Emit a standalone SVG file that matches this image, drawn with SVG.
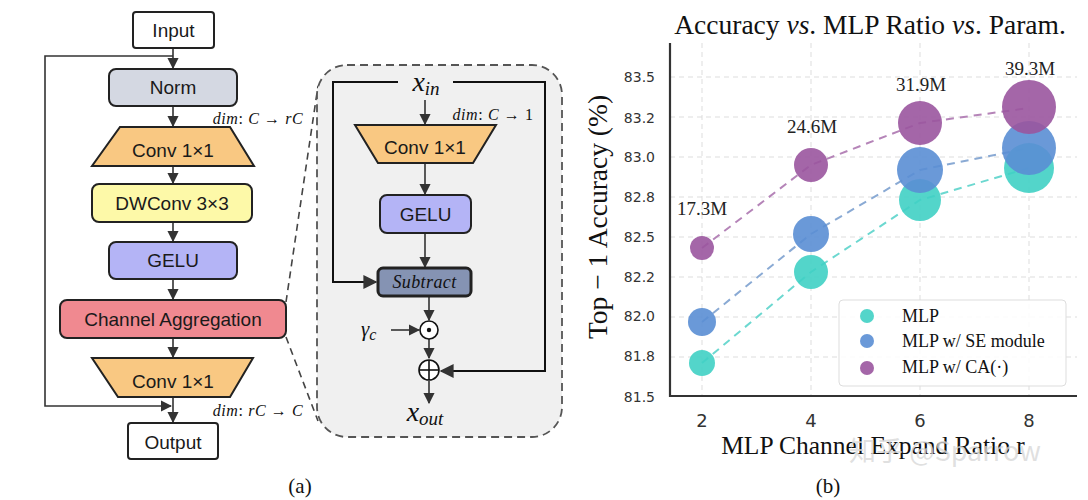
<svg xmlns="http://www.w3.org/2000/svg" width="1088" height="500" viewBox="0 0 1088 500">
<style>
.box{stroke:#222;stroke-width:2}
.lbl{font-family:"Liberation Sans",Arial,sans-serif;font-size:19px;fill:#1a1a1a;text-anchor:middle}
.math{font-family:"Liberation Serif","Times New Roman",serif;font-style:italic;fill:#111}
.ln{stroke:#333;stroke-width:1.6;fill:none}
.lnb{stroke:#111;stroke-width:2;fill:none}
.grid{stroke:#ddd;stroke-width:1;stroke-dasharray:5,4}
.tick{font-family:"DejaVu Sans",sans-serif;font-size:14px;fill:#333;text-anchor:end}
.xt{font-family:"DejaVu Sans",sans-serif;font-size:18px;fill:#333;text-anchor:middle}
.serif{font-family:"Liberation Serif","Times New Roman",serif;fill:#111}
.ann{font-family:"Liberation Serif","Times New Roman",serif;font-size:19px;fill:#222;text-anchor:middle}
.mlp{fill:#40d0c4;opacity:0.9}
.se{fill:#5a8ed4;opacity:0.9}
.ca{fill:#9a559e;opacity:0.9}
</style>
<defs>
<marker id="ah" viewBox="0 0 10 10" refX="9" refY="5" markerWidth="7" markerHeight="7" orient="auto-start-reverse">
<path d="M0,0 L10,5 L0,10 z" fill="#333"/>
</marker>
</defs>
<rect width="1088" height="500" fill="#fff"/>

<!-- Left panel (a) -->
<g id="connectors-a">
<line class="ln" x1="173" y1="48" x2="173" y2="68" marker-end="url(#ah)"/>
<polyline class="ln" points="173,56 45,56 45,406 171,406" marker-end="url(#ah)"/>
<line class="ln" x1="173" y1="106" x2="173" y2="126" marker-end="url(#ah)"/>
<line class="ln" x1="173" y1="166" x2="173" y2="183" marker-end="url(#ah)"/>
<line class="ln" x1="173" y1="222" x2="173" y2="241" marker-end="url(#ah)"/>
<line class="ln" x1="173" y1="279" x2="173" y2="299" marker-end="url(#ah)"/>
<line class="ln" x1="173" y1="338" x2="173" y2="357" marker-end="url(#ah)"/>
<line class="ln" x1="173" y1="397" x2="173" y2="422" marker-end="url(#ah)"/>
<line x1="286" y1="302" x2="318" y2="86" stroke="#444" stroke-width="1.6" stroke-dasharray="7,5"/>
<line x1="286" y1="337" x2="318" y2="421" stroke="#444" stroke-width="1.6" stroke-dasharray="7,5"/>
</g>
<g id="input"><rect class="box" x="133" y="12" width="81" height="36" rx="3" fill="#fff"/><text class="lbl" x="173.5" y="37">Input</text></g>
<g id="norm"><rect class="box" x="109" y="69" width="128" height="37" rx="7" fill="#d4d8e2"/><text class="lbl" x="173" y="94">Norm</text></g>
<g id="conv1"><polygon class="box" points="120,127 230,127 254,166 92,166" fill="#f9c882"/><text class="lbl" x="173" y="157">Conv 1×1</text></g>
<g id="dwconv"><rect class="box" x="92" y="184" width="160" height="38" rx="7" fill="#fdf9a8"/><text class="lbl" x="172" y="210">DWConv 3×3</text></g>
<g id="gelu"><rect class="box" x="109" y="242" width="128" height="37" rx="7" fill="#b4b4f6"/><text class="lbl" x="173" y="267">GELU</text></g>
<g id="ca-block"><rect class="box" x="60" y="300" width="226" height="38" rx="7" fill="#f08990"/><text class="lbl" x="173" y="326">Channel Aggregation</text></g>
<g id="conv2"><polygon class="box" points="92,358 253,358 230,397 118,397" fill="#f9c882"/><text class="lbl" x="173" y="388">Conv 1×1</text></g>
<g id="output"><rect class="box" x="128" y="423" width="90" height="36" rx="3" fill="#fff"/><text class="lbl" x="173" y="449">Output</text></g>
<g id="dim-labels">
<text class="math" x="258" y="124" font-size="16" letter-spacing="0.6" text-anchor="middle">dim<tspan font-style="normal">:</tspan> C <tspan font-style="normal">→</tspan> rC</text>
<text class="math" x="258" y="416" font-size="16" letter-spacing="0.6" text-anchor="middle">dim<tspan font-style="normal">:</tspan> rC <tspan font-style="normal">→</tspan> C</text>
</g>
<text class="serif" x="300" y="493" font-size="21" text-anchor="middle">(a)</text>

<!-- Inner CA detail -->
<g id="ca-detail">
<rect x="317" y="65" width="245" height="372" rx="30" fill="#f0f0f0" stroke="#555" stroke-width="1.8" stroke-dasharray="8,5"/>
</g>
<g id="connectors-ca">
<polyline class="lnb" points="398,82 333,82 333,282 376,282" marker-end="url(#ah)"/>
<polyline class="lnb" points="453,82 545,82 545,371 441,371" marker-end="url(#ah)"/>
<line class="ln" x1="425" y1="100" x2="425" y2="124" marker-end="url(#ah)"/>
<line class="ln" x1="425" y1="163" x2="425" y2="194" marker-end="url(#ah)"/>
<line class="ln" x1="425" y1="233" x2="425" y2="267" marker-end="url(#ah)"/>
<line class="ln" x1="429" y1="296" x2="429" y2="320" marker-end="url(#ah)"/>
<line class="ln" x1="391" y1="330" x2="419" y2="330" marker-end="url(#ah)"/>
<line class="ln" x1="429" y1="339" x2="429" y2="358" marker-end="url(#ah)"/>
<line class="ln" x1="429" y1="381" x2="429" y2="403" marker-end="url(#ah)"/>
</g>
<g id="xin"><text class="math" x="426" y="91" font-size="28" text-anchor="middle">x<tspan font-size="19" dy="4">in</tspan></text></g>
<g id="inner-conv"><polygon class="box" points="355,125 496,125 473,163 378,163" fill="#f9c882"/><text class="lbl" x="425" y="154">Conv 1×1</text></g>
<text class="math" x="493" y="120" font-size="16" letter-spacing="0.6" text-anchor="middle">dim<tspan font-style="normal">:</tspan> C <tspan font-style="normal">→ 1</tspan></text>
<g id="inner-gelu"><rect class="box" x="380" y="195" width="91" height="38" rx="7" fill="#b4b4f6"/><text class="lbl" x="425.5" y="221">GELU</text></g>
<g id="subtract"><rect x="378" y="268" width="93" height="28" rx="5" fill="#8593b3" stroke="#222" stroke-width="3"/><text class="math" x="424.5" y="288" font-size="18" letter-spacing="0.4" text-anchor="middle" fill="#111">Subtract</text></g>
<g id="mul"><circle cx="429" cy="330" r="9" fill="#fff" stroke="#111" stroke-width="1.6"/><circle cx="429" cy="330" r="2.2" fill="#111"/></g>
<g id="gamma"><text class="math" x="361" y="336" font-size="21" font-style="normal">γ<tspan font-style="italic" font-size="16" dy="4">c</tspan></text></g>
<g id="add"><circle cx="429" cy="370" r="10" fill="#fff" stroke="#111" stroke-width="1.6"/><line x1="419" y1="370" x2="439" y2="370" stroke="#111" stroke-width="1.6"/><line x1="429" y1="360" x2="429" y2="380" stroke="#111" stroke-width="1.6"/></g>
<g id="xout"><text class="math" x="425" y="421" font-size="28" text-anchor="middle">x<tspan font-size="19" dy="4">out</tspan></text></g>

<!-- Right panel (b) chart -->
<g id="chart">
<text class="serif" x="870" y="34" font-size="27.5" text-anchor="middle">Accuracy <tspan font-style="italic">vs</tspan>. MLP Ratio <tspan font-style="italic">vs</tspan>. Param.</text>
<g id="grid">
<line class="grid" x1="670" y1="77" x2="1077" y2="77"/>
<line class="grid" x1="670" y1="117" x2="1077" y2="117"/>
<line class="grid" x1="670" y1="157" x2="1077" y2="157"/>
<line class="grid" x1="670" y1="197" x2="1077" y2="197"/>
<line class="grid" x1="670" y1="237" x2="1077" y2="237"/>
<line class="grid" x1="670" y1="277" x2="1077" y2="277"/>
<line class="grid" x1="670" y1="317" x2="1077" y2="317"/>
<line class="grid" x1="670" y1="357" x2="1077" y2="357"/>
<line class="grid" x1="702" y1="43" x2="702" y2="396"/>
<line class="grid" x1="811" y1="43" x2="811" y2="396"/>
<line class="grid" x1="920" y1="43" x2="920" y2="396"/>
<line class="grid" x1="1029" y1="43" x2="1029" y2="396"/>
</g>
<g id="axes">
<line x1="670" y1="43" x2="670" y2="397" stroke="#333" stroke-width="2.2"/>
<line x1="669" y1="396" x2="1077" y2="396" stroke="#333" stroke-width="2.2"/>
</g>
<g id="yticks">
<text class="tick" x="655" y="82">83.5</text>
<text class="tick" x="655" y="123">83.2</text>
<text class="tick" x="655" y="162">83.0</text>
<text class="tick" x="655" y="202">82.8</text>
<text class="tick" x="655" y="242">82.5</text>
<text class="tick" x="655" y="282">82.2</text>
<text class="tick" x="655" y="321">82.0</text>
<text class="tick" x="655" y="361">81.8</text>
<text class="tick" x="655" y="402">81.5</text>
</g>
<g id="xticks">
<text class="xt" x="702" y="427">2</text>
<text class="xt" x="811" y="427">4</text>
<text class="xt" x="920" y="427">6</text>
<text class="xt" x="1029" y="427">8</text>
</g>
<text class="serif" x="607" y="217" font-size="27.5" text-anchor="middle" transform="rotate(-90 607 217)">Top − 1 Accuracy (%)</text>
<text class="serif" x="873" y="454" font-size="25.5" text-anchor="middle">MLP Channel Expand Ratio r</text>
<g id="series-lines" fill="none" stroke-width="2" stroke-dasharray="8,6">
<polyline points="702,363 811,272 920,200 1029,168" stroke="#6cd8d0"/>
<polyline points="702,322 811,234 920,170 1029,148" stroke="#8aaad4"/>
<polyline points="702,248 811,165 920,123 1029,108" stroke="#b584b8"/>
</g>
<g id="series-mlp">
<circle class="mlp" cx="702" cy="363" r="13"/>
<circle class="mlp" cx="811" cy="272" r="17"/>
<circle class="mlp" cx="920" cy="200" r="21"/>
<circle class="mlp" cx="1029" cy="168" r="25"/>
</g>
<g id="series-se">
<circle class="se" cx="702" cy="322" r="14"/>
<circle class="se" cx="811" cy="234" r="18"/>
<circle class="se" cx="920" cy="170" r="23"/>
<circle class="se" cx="1029" cy="148" r="27"/>
</g>
<g id="series-ca">
<circle class="ca" cx="702" cy="248" r="12"/>
<circle class="ca" cx="811" cy="165" r="17"/>
<circle class="ca" cx="920" cy="123" r="22"/>
<circle class="ca" cx="1029" cy="107" r="27"/>
</g>
<g id="param-labels">
<text class="ann" x="702" y="215">17.3M</text>
<text class="ann" x="812" y="133">24.6M</text>
<text class="ann" x="921" y="91">31.9M</text>
<text class="ann" x="1030" y="75">39.3M</text>
</g>
<g id="legend">
<rect x="839" y="300" width="227" height="86" rx="4" fill="#fff" fill-opacity="0.85" stroke="#ddd" stroke-width="1"/>
<circle class="mlp" cx="867" cy="316" r="7"/>
<circle class="se" cx="867" cy="341" r="7"/>
<circle class="ca" cx="867" cy="368" r="7"/>
<text class="serif" x="902" y="322" font-size="18">MLP</text>
<text class="serif" x="902" y="347" font-size="18">MLP w/ SE module</text>
<text class="serif" x="902" y="373" font-size="18">MLP w/ CA(·)</text>
</g>
<text x="945" y="461" font-family="'Noto Sans CJK SC','Noto Sans',sans-serif" font-size="27" fill="#d8d8d8" fill-opacity="0.8" text-anchor="middle">知乎 @Sparrow</text>
<text class="serif" x="828" y="493" font-size="21" text-anchor="middle">(b)</text>
</g>
</svg>
